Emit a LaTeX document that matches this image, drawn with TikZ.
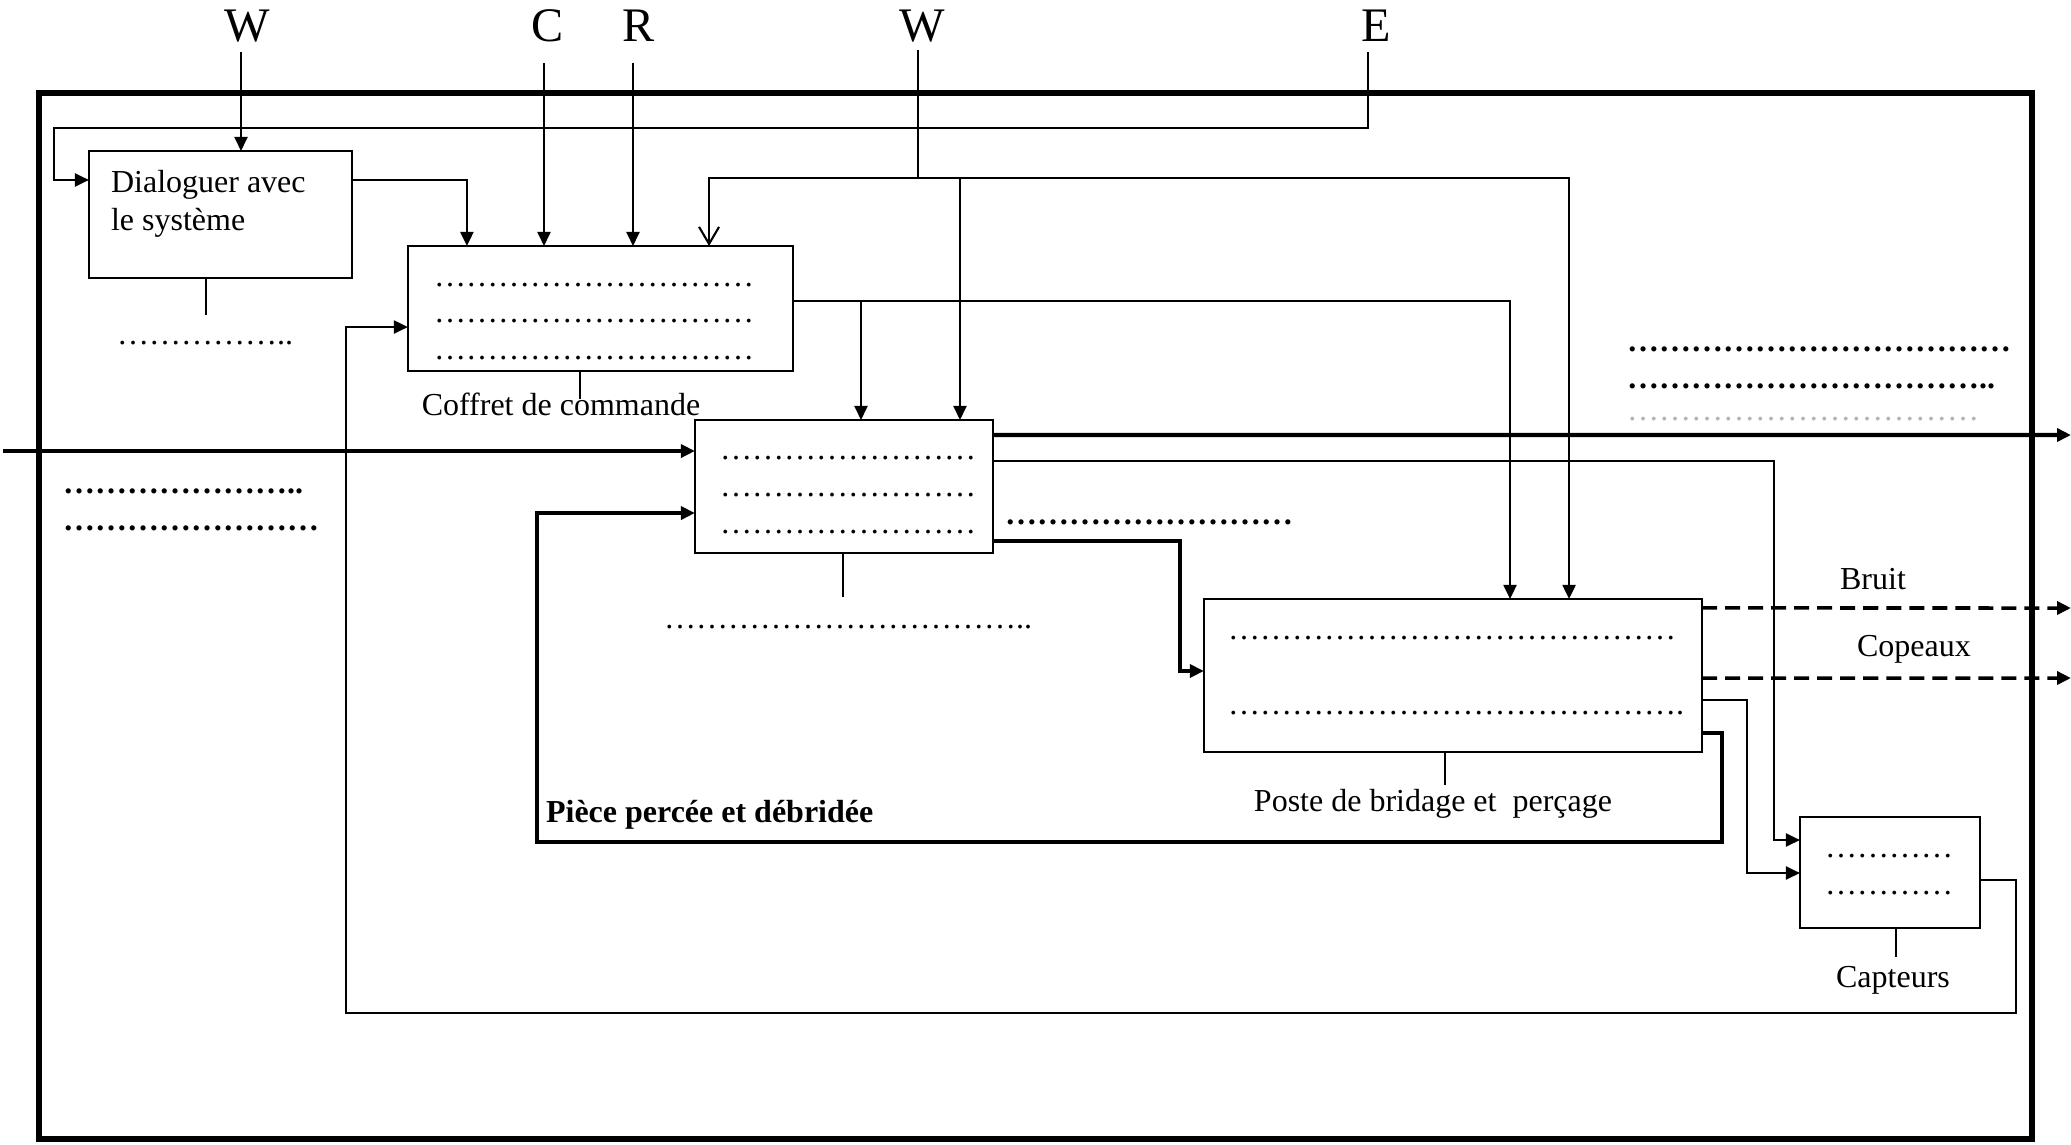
\documentclass[tikz,border=0pt]{standalone}
\usepackage{fontspec}
\setmainfont{Liberation Serif}
\usetikzlibrary{arrows.meta}
\newcommand{\dotrow}[1]{\foreach \k in {1,...,#1}{…}}

\begin{document}
\begin{tikzpicture}[x=0.01cm, y=-0.01cm, line width=0.6pt,
  main/.style = {draw, rectangle, inner sep=0pt, outer sep=0pt},
  txt/.style = {inner sep=0pt, font=\fontsize{9.1}{10.8}\selectfont},
  big/.style = {inner sep=0pt, font=\fontsize{13.7}{16}\selectfont},
  dots/.style = {txt, anchor=west},
  bdots/.style = {txt, anchor=west, font=\fontsize{9.1}{10.8}\selectfont\bfseries},
  arr/.style = {-{Triangle[length=0.14cm, width=0.13cm]}},
  thk/.style = {line width=1.2pt},
  dsh/.style = {line width=1pt, dash pattern=on 0.15cm off 0.08cm}]
  \useasboundingbox (0,0) rectangle (2071,1144);
  \draw[line width=1.8pt] (39,93) rectangle (2032,1139);

  \node[big] (w1) at (247,26) {W};
  \node[big] (c) at (548,26) {C};
  \node[big] (r) at (639,26) {R};
  \node[big] (w2) at (922,26) {W};
  \node[big] (e) at (1376,26) {E};

  \node[main, minimum width=2.63cm, minimum height=1.27cm] (dial) at (220.5,214.5) {};
  \node[main, minimum width=3.85cm, minimum height=1.25cm] (coffret) at (600.5,308.5) {};
  \node[main, minimum width=2.98cm, minimum height=1.33cm] (ope) at (844,486.5) {};
  \node[main, minimum width=4.98cm, minimum height=1.53cm] (poste) at (1453,675.5) {};
  \node[main, minimum width=1.80cm, minimum height=1.11cm] (capt) at (1890,872.5) {};

  \node[txt, anchor=west, align=left] (dialt) at (110,204) {Dialoguer avec\\le système};
  \node[dots] (dialm) at (116,343) {\dotrow{5}..};
  \node[dots] (cof1) at (433,285) {\dotrow{10}};
  \node[dots] (cof2) at (433,321) {\dotrow{10}};
  \node[dots] (cof3) at (433,358) {\dotrow{10}};
  \node[txt] (coflbl) at (561,404) {Coffret de commande};
  \node[dots] (ope1) at (719,458) {\dotrow{8}};
  \node[dots] (ope2) at (719,495) {\dotrow{8}};
  \node[dots] (ope3) at (719,532) {\dotrow{8}};
  \node[dots] (opem) at (663,627) {\dotrow{11}..};
  \node[dots] (poste1) at (1227,638) {\dotrow{14}};
  \node[dots] (poste2) at (1227,713) {\dotrow{14}.};
  \node[txt] (postelbl) at (1433,804) {Poste de bridage et\ \ perçage};
  \node[dots] (capt1) at (1824,856) {\dotrow{4}};
  \node[dots] (capt2) at (1824,893) {\dotrow{4}};
  \node[txt] (captlbl) at (1893,980) {Capteurs};
  \node[txt] (bruit) at (1873,579) {Bruit};
  \node[txt] (copeaux) at (1914,649) {Copeaux};
  \node[txt, anchor=west, font=\fontsize{9.1}{10.8}\selectfont\bfseries] (piece) at (545,815) {Pièce percée et débridée};
  \node[bdots] (in1) at (62,491) {\dotrow{7}..};
  \node[bdots] (in2) at (62,528) {\dotrow{8}};
  \node[bdots] (mid) at (1004,522) {\dotrow{9}};
  \node[bdots] (out1) at (1626,349) {\dotrow{12}};
  \node[bdots] (out2) at (1626,386) {\dotrow{11}..};
  \node[dots, text=black!30] (out3) at (1626,419) {\dotrow{11}};

  \coordinate (w1top) at (241,52);
  \coordinate (ctop) at (544,63);
  \coordinate (rtop) at (633,63);
  \coordinate (w2top) at (918,50);
  \coordinate (wsplit) at (918,178);
  \coordinate (wope) at (960,178);
  \coordinate (etop) at (1368,52);
  \coordinate (eleft) at (54,128);
  \coordinate (cofsplit) at (861,301);
  \coordinate (in) at (3,451);
  \coordinate (outp) at (2071,435);
  \coordinate (k1) at (1774,840);
  \coordinate (k2) at (1180,671);
  \coordinate (k3) at (1747,873);
  \coordinate (k4) at (1722,842);
  \coordinate (k5) at (537,842);
  \coordinate (k6) at (2016,1013);
  \coordinate (k7) at (346,1013);
  \coordinate (noise) at (2071,608);
  \coordinate (chips) at (2071,678);

  \draw[arr] (w1top) -- (w1top |- dial.north);
  \draw[arr] (etop) |- (eleft) |- ([yshift=0.345cm]dial.west);
  \draw[arr] ([yshift=0.345cm]dial.east) -| ([xshift=-1.335cm]coffret.north);
  \draw[arr] (ctop) -- (ctop |- coffret.north);
  \draw[arr] (rtop) -- (rtop |- coffret.north);
  \draw[-] (w2top) -- (wsplit);
  \draw[-{Straight Barb[length=0.17cm, width=0.2cm]}] (wsplit) -| ([xshift=1.085cm]coffret.north);
  \draw[arr] (wsplit) -| ([xshift=1.16cm]poste.north);
  \draw[arr] (wope) -- (wope |- ope.north);
  \draw[arr] ([yshift=0.075cm]coffret.east) -| ([xshift=0.57cm]poste.north);
  \draw[arr] (cofsplit) -- (cofsplit |- ope.north);

  \draw[arr, thk] (in) -- (in -| ope.west);
  \draw[arr, thk] ([yshift=0.515cm]ope.east) -- (outp);
  \draw[arr] ([yshift=0.255cm]ope.east) -| (k1) -- (k1 -| capt.west);
  \draw[arr, thk] ([yshift=-0.545cm]ope.east) -| (k2) -- (k2 -| poste.west);

  \draw[arr, dsh] ([yshift=0.675cm]poste.east) -- (noise);
  \draw[arr, dsh] ([yshift=-0.025cm]poste.east) -- (chips);
  \draw[arr] ([yshift=-0.245cm]poste.east) -| (k3) -- (k3 -| capt.west);
  \draw[arr, thk] ([yshift=-0.575cm]poste.east) -| (k4) -- (k5) |- ([yshift=-0.265cm]ope.west);
  \draw[arr] ([yshift=-0.075cm]capt.east) -| (k6) -- (k7) |- ([yshift=-0.185cm]coffret.west);

  \draw[-] ([xshift=-0.145cm]dial.south) -- ++(0,37);
  \draw[-] ([xshift=-0.205cm]coffret.south) -- ++(0,28);
  \draw[-] ([xshift=-0.01cm]ope.south) -- ++(0,44);
  \draw[-] ([xshift=-0.08cm]poste.south) -- ++(0,33);
  \draw[-] ([xshift=0.06cm]capt.south) -- ++(0,29);
\end{tikzpicture}
\end{document}
